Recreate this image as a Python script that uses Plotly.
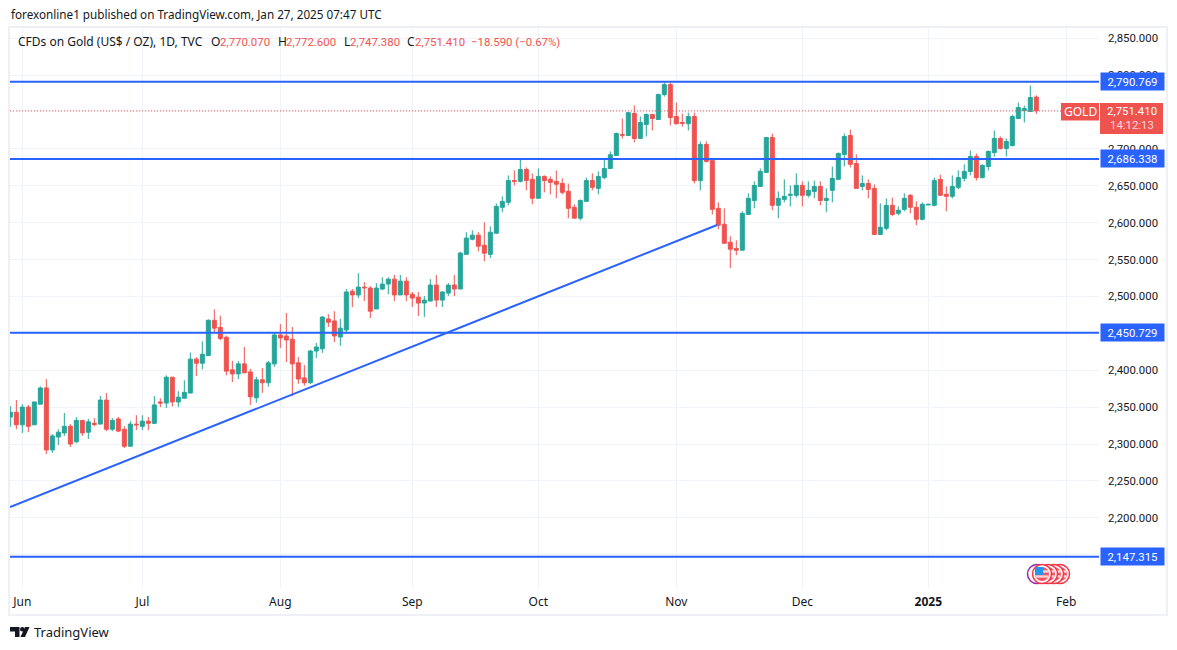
import plotly.graph_objects as go

W, H = 1177, 650
PANE_L, PANE_R, PANE_T, PANE_B = 10, 1099, 28, 588

GREEN = '#26a69a'
RED = '#ef5350'
BLUE = '#2962ff'
GRID = '#f0f3fa'
INK = '#131722'
FONT = 'Noto Sans'
NUM_FONT = 'Roboto'
NUM_SIZE = 11.4

# daily bars, Jun 2024 .. Jan 2025, one row per ten bars
opens = [
    2336.5, 2343, 2326, 2350, 2326, 2354, 2376, 2292, 2309.5, 2315,
    2324, 2303, 2332, 2316, 2328, 2327, 2359.5, 2320, 2334, 2320,
    2297, 2327, 2324, 2331, 2328, 2357, 2355.5, 2390.5, 2357, 2362,
    2369, 2415, 2409.5, 2420, 2467.6, 2458, 2444.6, 2400.5, 2395, 2408.6,
    2397.7, 2362.6, 2387, 2383, 2408.6, 2447.8, 2446.4, 2442, 2410, 2389.6,
    2383, 2426, 2429, 2469.4, 2466.7, 2445, 2454.5, 2507, 2502, 2512.6,
    2511.3, 2483, 2510, 2516.7, 2523.4, 2502, 2520.7, 2503, 2499, 2491,
    2493.7, 2515.3, 2495, 2504.5, 2515.4, 2510, 2557, 2577.5, 2583, 2569.4,
    2557, 2585.6, 2620.7, 2627.5, 2657, 2655.9, 2672, 2658.6, 2633, 2662.6,
    2658.6, 2655.9, 2653, 2642.4, 2620.7, 2606, 2628.8, 2657, 2646.4, 2661,
    2673.4, 2691, 2719.4, 2718, 2747.8, 2714, 2733, 2746.4, 2739.7, 2773.5,
    2787, 2743.7, 2735.6, 2734, 2743.7, 2657, 2705.9, 2684, 2619.4, 2597.7,
    2573.4, 2565, 2562.6, 2611, 2630, 2649, 2668, 2715.3, 2623.4, 2631.5,
    2637, 2637, 2650.5, 2637, 2642.3, 2649, 2630, 2643.7, 2658.6, 2692.4,
    2718, 2680, 2649, 2653, 2646.4, 2584, 2592.3, 2623.4, 2612.6, 2618,
    2637, 2620.7, 2604.5, 2623.9, 2623.4, 2658.6, 2638.3, 2635.6, 2647.8, 2660,
    2669.4, 2689.6, 2661, 2676, 2695, 2714, 2700.5, 2704.5, 2741, 2751.8,
    2750.5, 2770.07,
]
highs = [
    2351.4, 2359.5, 2354, 2353, 2357, 2378, 2388, 2313.5, 2320, 2342,
    2327, 2336.5, 2332, 2334, 2335, 2365, 2369, 2335, 2336.5, 2324,
    2331, 2339, 2339, 2336.5, 2365, 2362, 2393, 2390.5, 2371.6, 2386.5,
    2424, 2417.6, 2439, 2469, 2482.5, 2474, 2447, 2412.6, 2412.6, 2431.5,
    2402, 2391, 2403, 2412.6, 2450.5, 2462.6, 2477.5, 2458.6, 2418, 2407,
    2427.5, 2437, 2473.4, 2476, 2480, 2469.4, 2510, 2510, 2531.5, 2519.4,
    2514, 2518, 2526, 2526, 2529, 2529, 2526, 2506, 2506, 2500.5,
    2523.4, 2529, 2507, 2518, 2529, 2560, 2587, 2589.6, 2587, 2600.5,
    2595, 2626, 2635.6, 2664, 2670.7, 2687, 2674.8, 2666.7, 2673.4, 2664,
    2662.6, 2670.7, 2660, 2653, 2624.8, 2631.5, 2661, 2666.7, 2669.4, 2687,
    2696.4, 2722, 2741, 2749, 2758.6, 2743.7, 2747.8, 2746.4, 2774.8, 2789.7,
    2789.7, 2762.6, 2747.8, 2749, 2749, 2710, 2710, 2685.6, 2627.5, 2619.4,
    2581.5, 2576, 2615.3, 2639.6, 2655.9, 2673.4, 2715.3, 2720.7, 2642.3, 2658.6,
    2650.5, 2666.7, 2655.9, 2655.9, 2657, 2655.9, 2646.4, 2676, 2695, 2720.7,
    2726, 2692.4, 2664, 2658.6, 2651.7, 2626, 2632.9, 2634, 2622, 2639.6,
    2638.3, 2628.8, 2627.5, 2624.8, 2661, 2665, 2649, 2664, 2670.7, 2679,
    2697.8, 2693.7, 2679, 2697.8, 2724.8, 2716.7, 2714, 2746.4, 2762.6, 2758.6,
    2785.6, 2772.6,
]
lows = [
    2323.4, 2320, 2315, 2316, 2326, 2354, 2286.5, 2288, 2298.6, 2311,
    2296, 2301, 2311, 2307, 2324, 2327, 2317.5, 2317.5, 2316, 2294.6,
    2297, 2319, 2319, 2319, 2327, 2350, 2348.7, 2351, 2350, 2362,
    2369, 2392, 2401, 2420, 2451, 2440.5, 2393, 2384, 2388, 2396.4,
    2353, 2356, 2369.4, 2377.5, 2404.5, 2430, 2411, 2365, 2381.5, 2379,
    2381.5, 2416.7, 2423.4, 2458.6, 2438, 2433, 2450, 2485.6, 2497.8, 2493.7,
    2470.7, 2483, 2508.6, 2503, 2493.7, 2502, 2493.7, 2485.6, 2473.4, 2472,
    2493.7, 2485.6, 2485.6, 2500.5, 2500.5, 2510, 2557, 2576, 2561, 2547.7,
    2552, 2585.6, 2614, 2623.4, 2650.5, 2654.5, 2643.7, 2624.8, 2633, 2641,
    2638.3, 2633, 2638.3, 2606, 2606, 2603, 2628.8, 2643.7, 2638.3, 2658.6,
    2673.4, 2691, 2714, 2718, 2708.6, 2714, 2716.7, 2724.8, 2739.7, 2770.7,
    2731.5, 2733, 2730, 2724.8, 2653, 2643.7, 2681.5, 2611, 2591, 2572,
    2538.3, 2555.8, 2562.6, 2611, 2619.4, 2649, 2668, 2616.7, 2605.9, 2627.5,
    2622, 2634, 2622, 2634, 2632.9, 2623.4, 2614, 2627.5, 2658.6, 2676,
    2674.8, 2646.4, 2643.7, 2632.9, 2584, 2584, 2589.6, 2608.6, 2610, 2615.3,
    2612.6, 2596.4, 2603, 2623.9, 2622, 2637, 2615.3, 2632.9, 2645, 2655.9,
    2664, 2657, 2660, 2670.7, 2689.6, 2699, 2689.6, 2703, 2741, 2735.6,
    2750.5, 2747.38,
]
closes = [
    2343.2, 2326, 2350, 2324, 2357, 2376, 2292, 2311, 2316, 2324,
    2300, 2332, 2315, 2330, 2326.6, 2359.5, 2320, 2332, 2317.5, 2297,
    2327, 2326, 2331, 2328, 2353, 2355.5, 2390.5, 2357, 2363.5, 2370,
    2415, 2409.5, 2421.6, 2467.6, 2457, 2443, 2398.7, 2395, 2408.6, 2396.4,
    2364, 2387, 2383, 2410, 2447.8, 2443.7, 2441, 2408.6, 2388, 2383,
    2426, 2431.5, 2472, 2465, 2446.4, 2457, 2506, 2502, 2512.6, 2511.7,
    2480, 2511.3, 2516.7, 2523.4, 2502, 2520.7, 2502, 2497.8, 2491, 2495,
    2515.3, 2495, 2506, 2515.3, 2510, 2558.8, 2579, 2583, 2568, 2558.6,
    2587, 2622, 2628.8, 2657, 2656, 2672, 2657, 2633, 2662.6, 2657,
    2654.5, 2652, 2641, 2619.4, 2606, 2630, 2657, 2647.8, 2662.6, 2673.4,
    2692, 2720.7, 2718.5, 2749, 2714, 2735.6, 2746.4, 2741, 2773.5, 2787,
    2742.4, 2734, 2734.7, 2743.7, 2657, 2705.9, 2683, 2618, 2596.4, 2572,
    2564, 2562.6, 2612.6, 2632.9, 2650.5, 2669.4, 2715.3, 2623.4, 2632.9, 2635.6,
    2638.3, 2650.5, 2637, 2643.7, 2649, 2630, 2632.9, 2660, 2693.7, 2716.7,
    2679, 2646.4, 2653, 2645, 2584, 2593.7, 2623.4, 2611, 2616.7, 2632.9,
    2620.7, 2604.5, 2624.8, 2624.8, 2657, 2637, 2635.6, 2649, 2661, 2669.4,
    2689.6, 2661, 2677.5, 2696.4, 2714, 2700.5, 2710, 2743.7, 2755.9, 2754.5,
    2769.4, 2751.41,
]
bars = list(range(-1, len(opens) - 1))

month_bars = [1, 21, 44, 66, 87, 110, 131, 152, 175]
month_labels = ['Jun', 'Jul', 'Aug', 'Sep', 'Oct', 'Nov', 'Dec', '<b>2025</b>', 'Feb']
price_ticks = [2150, 2200, 2250, 2300, 2350, 2400, 2450, 2500, 2550,
               2600, 2650, 2700, 2750, 2800, 2850]
# 2,150 / 2,450 / 2,750 sit fully behind the price tags in the original
price_labels = ['', '2,200.000', '2,250.000', '2,300.000', '2,350.000', '2,400.000', '', '2,500.000',
                '2,550.000', '2,600.000', '2,650.000', '2,700.000', '', '2,800.000', '2,850.000']

levels = [2790.769, 2686.338, 2450.729, 2147.315]
last_close = 2751.41
trend_bars = [-1.05, 116.8]
trend_prices = [2214.6, 2596.8]


def px(x):
    # window pixel -> paper x
    return (x - PANE_L) / (PANE_R - PANE_L)


def py(y):
    # window pixel -> paper y
    return (PANE_B - y) / (PANE_B - PANE_T)


def text(x, y, s, size=12, color=INK, anchor='left', family=FONT):
    fig.add_annotation(x=px(x), y=py(y), xref='paper', yref='paper', text=s, showarrow=False,
                       xanchor=anchor, yanchor='middle', borderpad=0,
                       font=dict(family=family, size=size, color=color))


def num(x, y, s, color=RED, anchor='left'):
    text(x, y, s, size=NUM_SIZE, color=color, anchor=anchor, family=NUM_FONT)


def tag(y, s, color):
    fig.add_annotation(x=px(1100), y=y, xref='paper', yref='y', text=s, showarrow=False,
                       xanchor='left', yanchor='middle', width=63, height=17, align='center',
                       bgcolor=color, borderpad=0, font=dict(family=NUM_FONT, size=NUM_SIZE, color='white'))


def circle(cx, cy, r, fill, line=None, lw=0):
    fig.add_shape(type='circle', xref='paper', yref='paper', layer='above',
                  x0=px(cx - r), x1=px(cx + r), y0=py(cy + r), y1=py(cy - r),
                  fillcolor=fill, line=dict(color=line or fill, width=lw))


def box(x0, y0, x1, y1, fill):
    fig.add_shape(type='rect', xref='paper', yref='paper', layer='above',
                  x0=px(x0), x1=px(x1), y0=py(y1), y1=py(y0), fillcolor=fill, line_width=0)


def flag(cx, cy, canton=False):
    circle(cx, cy, 9.5, 'white', '#f23645', 1.5)
    circle(cx, cy, 7, '#f7525f')
    for dy in (-2.5, 2.5):
        box(cx - 6.4, cy + dy - 1.2, cx + 6.4, cy + dy + 1.2, '#fbd3d7')
    if canton:
        box(cx - 7, cy - 7, cx + 1, cy + 1, '#2196f3')


fig = go.Figure()

fig.add_trace(go.Candlestick(
    x=bars, open=opens, high=highs, low=lows, close=closes,
    increasing=dict(line=dict(color=GREEN, width=1), fillcolor=GREEN),
    decreasing=dict(line=dict(color=RED, width=1), fillcolor=RED),
    whiskerwidth=0, showlegend=False,
))

fig.add_trace(go.Scatter(x=trend_bars, y=trend_prices, mode='lines', showlegend=False,
                         line=dict(color=BLUE, width=2)))

for level in levels:
    fig.add_hline(y=level, line=dict(color=BLUE, width=2), layer='above')
fig.add_hline(y=last_close, line=dict(color=RED, width=1, dash='1px,2px'), layer='above')

fig.update_layout(
    width=W, height=H,
    margin=dict(l=PANE_L, r=W - PANE_R, t=PANE_T, b=H - PANE_B, pad=0),
    paper_bgcolor='white', plot_bgcolor='white',
    boxgap=0.1, boxgroupgap=0.26, showlegend=False, dragmode=False,
    font=dict(family=FONT, size=12, color=INK),
    xaxis=dict(
        range=[-1.055, 180.45], rangeslider=dict(visible=False),
        tickmode='array', tickvals=month_bars, ticktext=month_labels,
        gridcolor=GRID, gridwidth=1, showline=False, zeroline=False,
        ticks='', ticklabelstandoff=5, tickfont=dict(size=12, color=INK),
    ),
    yaxis=dict(
        range=[2104.9, 2863.7], side='right',
        tickmode='array', tickvals=price_ticks, ticktext=price_labels,
        gridcolor=GRID, gridwidth=1, showline=False, zeroline=False,
        ticks='', ticklabelstandoff=8, tickfont=dict(family=NUM_FONT, size=NUM_SIZE, color=INK),
    ),
)

# outer chart frame
fig.add_shape(type='rect', xref='paper', yref='paper', layer='below',
              x0=px(9), x1=px(1167), y0=py(615), y1=py(27), line=dict(color='#eef0f6', width=2))

# header and OHLC legend
text(9.5, 14.5, 'forexonline1 published on TradingView.com, Jan 27, 2025 07:47 UTC', size=11.7)
text(16.5, 41.5, 'CFDs on Gold (US$ / OZ), 1D, TVC')
text(210, 41.5, 'O')
num(218.5, 41.5, '2,770.070')
text(276.5, 41.5, 'H')
num(284.5, 41.5, '2,772.600')
text(342.5, 41.5, 'L')
num(348.5, 41.5, '2,747.380')
text(406, 41.5, 'C')
num(414, 41.5, '2,751.410')
num(470, 41.5, '−18.590 (−0.67%)')

# price scale tags
for level in levels:
    tag(level, f'{level:,.3f}', BLUE)
box(1061, 103, 1099, 120.5, RED)
box(1100, 103, 1163, 134, RED)
text(1080, 111.5, 'GOLD', color='white', anchor='center')
num(1131.5, 111, '2,751.410', color='white', anchor='center')
num(1131.5, 124.5, '14:12:13', color='#fbd3d7', anchor='center')

# economic event markers
circle(1037, 574, 9.5, 'white', '#9c27b0', 1.5)
for cx in (1060, 1054, 1048):
    flag(cx, 574)
flag(1042, 574, canton=True)

# footer logo
fig.add_shape(type='path', xref='paper', yref='paper', layer='above', line_width=0, fillcolor=INK,
              path=f'M {px(10)} {py(627)} L {px(19.5)} {py(627)} L {px(19.5)} {py(637)} L {px(15)} {py(637)} '
                   f'L {px(15)} {py(631.5)} L {px(10)} {py(631.5)} Z')
circle(22.3, 629.2, 2.3, INK)
fig.add_shape(type='path', xref='paper', yref='paper', layer='above', line_width=0, fillcolor=INK,
              path=f'M {px(25)} {py(627)} L {px(29.5)} {py(627)} L {px(25)} {py(637)} L {px(20.5)} {py(637)} Z')
text(32.5, 632, 'TradingView', size=13)

# drop the browser's default body margin so the figure fills the window
fig.write_html("out.html", config={'displayModeBar': False}, post_script="document.body.style.margin='0';")
